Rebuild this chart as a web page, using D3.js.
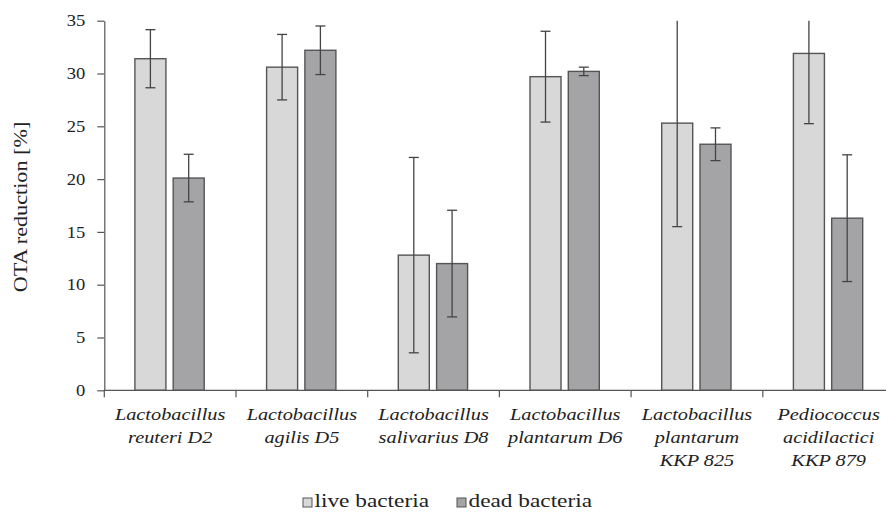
<!DOCTYPE html>
<html>
<head>
<meta charset="utf-8">
<script src="https://cdn.jsdelivr.net/npm/d3@7"></script>
<style>
  html, body { margin: 0; padding: 0; background: #fff; }
  svg { display: block; }
  text { font-family: "Liberation Serif", "Times New Roman", serif; fill: #222; }
</style>
</head>
<body>
<svg id="chart" width="886" height="512"></svg>
<script>
// Strains (label lines) and OTA reduction values, % (mean and SD)
const categories = [
  ["Lactobacillus", "reuteri D2"],
  ["Lactobacillus", "agilis D5"],
  ["Lactobacillus", "salivarius D8"],
  ["Lactobacillus", "plantarum D6"],
  ["Lactobacillus", "plantarum", "KKP 825"],
  ["Pediococcus", "acidilactici", "KKP 879"]
];
const seriesNames = ["live bacteria", "dead bacteria"];
const liveValues = [31.4, 30.6, 12.8, 29.7, 25.3, 31.9];
const liveErrors = [2.75, 3.1, 9.25, 4.3, 9.8, 6.65];
const deadValues = [20.1, 32.2, 12.0, 30.2, 23.3, 16.3];
const deadErrors = [2.25, 2.3, 5.05, 0.4, 1.55, 6.0];
const yTicks = [0, 5, 10, 15, 20, 25, 30, 35];
const yLabel = "OTA reduction [%]";

const fills = { "live bacteria": "#d8d8d9", "dead bacteria": "#a4a4a7" };

const svg = d3.select("#chart");
const W = 886, H = 512;
const plotLeft = 104.3, plotTop = 20.7, plotBottom = 390.3;
const step = 131.7;
// the typeface is set a little wide
const stretch = 1.16;

const keys = categories.map(c => c.join(" "));
const x = d3.scaleBand().domain(keys).range([plotLeft, plotLeft + step * keys.length]);
const xs = d3.scaleBand().domain(seriesNames).range([30.6, 99.9]).paddingInner(0.19);
const y = d3.scaleLinear().domain([0, 35]).range([plotBottom, plotTop]);

const rows = keys.map((k, i) => ({
  key: k,
  bars: [
    { s: seriesNames[0], v: liveValues[i], e: liveErrors[i] },
    { s: seriesNames[1], v: deadValues[i], e: deadErrors[i] }
  ]
}));

// Y axis
const yAxis = d3.axisLeft(y).tickValues(yTicks).tickSize(7).tickSizeOuter(0).tickPadding(12);
const gy = svg.append("g").attr("transform", `translate(${plotLeft},0)`).call(yAxis);
gy.select(".domain").attr("stroke", "#555").attr("stroke-width", 1.2);
gy.selectAll(".tick line").attr("stroke", "#555").attr("stroke-width", 1.2);
gy.selectAll(".tick text")
  .attr("font-size", 16).attr("font-family", "Liberation Serif").attr("fill", "#222")
  .each(function() {
    const t = d3.select(this);
    const tx = +t.attr("x");
    t.attr("x", 0).attr("transform", `translate(${tx},0) scale(${stretch},1)`);
  });

// Bars
const groups = svg.append("g").selectAll("g").data(rows).join("g")
  .attr("transform", d => `translate(${x(d.key)},0)`);

groups.selectAll("rect").data(d => d.bars).join("rect")
  .attr("x", d => xs(d.s))
  .attr("width", xs.bandwidth())
  .attr("y", d => y(d.v))
  .attr("height", d => y(0) - y(d.v))
  .attr("fill", d => fills[d.s])
  .attr("stroke", "#555")
  .attr("stroke-width", 1.4);

// Error bars, clipped at the top of the value axis
const yMax = y.domain()[1];
const err = groups.selectAll("g.err").data(d => d.bars).join("g").attr("class", "err");
err.append("line")
  .attr("x1", d => xs(d.s) + xs.bandwidth() / 2)
  .attr("x2", d => xs(d.s) + xs.bandwidth() / 2)
  .attr("y1", d => y(Math.min(yMax, d.v + d.e)))
  .attr("y2", d => y(d.v - d.e))
  .attr("stroke", "#444").attr("stroke-width", 1.3);
err.each(function(d) {
  const g = d3.select(this);
  const cx = xs(d.s) + xs.bandwidth() / 2;
  const ends = [d.v - d.e];
  if (d.v + d.e <= yMax) ends.push(d.v + d.e);
  ends.forEach(v => {
    g.append("line")
      .attr("x1", cx - 5).attr("x2", cx + 5)
      .attr("y1", y(v)).attr("y2", y(v))
      .attr("stroke", "#444").attr("stroke-width", 1.3);
  });
});

// X axis line with ticks at category boundaries
svg.append("line")
  .attr("x1", plotLeft).attr("x2", W)
  .attr("y1", plotBottom).attr("y2", plotBottom)
  .attr("stroke", "#555").attr("stroke-width", 1.2);
const bounds = keys.map(k => x(k)).concat([x.range()[1]]);
svg.append("g").selectAll("line").data(bounds).join("line")
  .attr("x1", d => d).attr("x2", d => d)
  .attr("y1", plotBottom).attr("y2", plotBottom + 7)
  .attr("stroke", "#555").attr("stroke-width", 1.2);

// Category labels (italic, multi-line)
svg.append("g").selectAll("text").data(categories).join("text")
  .attr("text-anchor", "middle")
  .attr("font-style", "italic")
  .attr("font-size", 17.5)
  .attr("transform", (d, i) => `translate(${x(keys[i]) + x.bandwidth() / 2},420) scale(${stretch},1)`)
  .selectAll("tspan").data(d => d).join("tspan")
  .attr("x", 0).attr("dy", (d, i) => i === 0 ? 0 : 23)
  .text(d => d);

// Y axis title
svg.append("text")
  .attr("transform", `translate(26.5,207) rotate(-90) scale(1.2,1)`)
  .attr("text-anchor", "middle")
  .attr("font-size", 18.5)
  .text(yLabel);

// Legend
const legendX = [303, 457];
const legend = svg.append("g").selectAll("g").data(seriesNames).join("g")
  .attr("transform", (d, i) => `translate(${legendX[i]},498)`);
legend.append("rect")
  .attr("width", 9).attr("height", 9)
  .attr("fill", d => fills[d]).attr("stroke", "#555").attr("stroke-width", 1);
legend.append("text")
  .attr("transform", `translate(11.5,9) scale(1.26,1)`)
  .attr("font-size", 18.5)
  .text(d => d);
</script>
</body>
</html>
